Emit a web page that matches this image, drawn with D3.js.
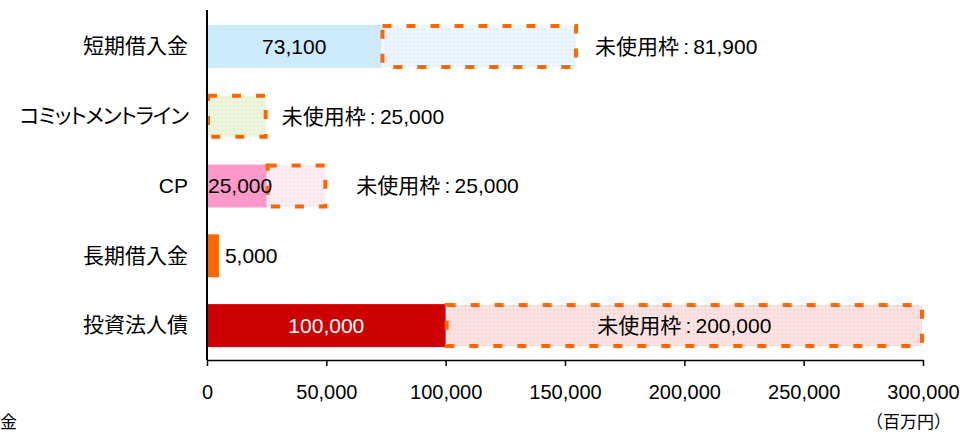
<!DOCTYPE html>
<html lang="ja">
  <head>
    <meta charset="utf-8" />
    <title>借入枠</title>
    <script src="https://d3js.org/d3.v7.min.js"></script>
    <style>
      body { margin: 0; background: #fff; }
      svg text { font-family: "Liberation Sans", Arial, "Noto Sans CJK JP", sans-serif; fill: #000; }
    </style>
  </head>
  <body>
    <div id="chart"></div>
    <script>
      // data
      const categories = ["短期借入金", "コミットメントライン", "CP", "長期借入金", "投資法人債"];
      const usedValues = [73100, 0, 25000, 5000, 100000];
      const unusedValues = [81900, 25000, 25000, 0, 200000];
      const xTicks = [0, 50000, 100000, 150000, 200000, 250000, 300000];

      const usedColors = ["#cdeafb", "#ffffff", "#ff99cc", "#ff6600", "#cc0000"];
      const unusedColors = ["#eef6fd", "#eef5dd", "#fdeef4", "#ffffff", "#fbe3e3"];
      const dotColors = ["#dde9f6", "#dbe8c4", "#f6d6e4", "#ffffff", "#f1c9c9"];

      const width = 976, height = 432;
      const margin = { top: 10, right: 53, bottom: 72, left: 207 };

      const svg = d3.select("#chart").append("svg")
        .attr("width", width).attr("height", height);

      const x = d3.scaleLinear().domain([0, 300000])
        .range([margin.left, width - margin.right]);
      const y = d3.scaleBand().domain(categories)
        .range([margin.top + 1, height - margin.bottom + 1]).paddingInner(0.385).paddingOuter(0.2);

      // dotted fill patterns
      const defs = svg.append("defs");
      categories.forEach((c, i) => {
        const p = defs.append("pattern").attr("id", "dots" + i)
          .attr("width", 4).attr("height", 4).attr("patternUnits", "userSpaceOnUse");
        p.append("rect").attr("width", 4).attr("height", 4).attr("fill", unusedColors[i]);
        p.append("rect").attr("x", 1).attr("y", 1).attr("width", 1.5).attr("height", 1.5).attr("fill", dotColors[i]);
      });

      // used bars
      svg.append("g").selectAll("rect")
        .data(categories)
        .join("rect")
        .attr("x", x(0))
        .attr("y", d => y(d))
        .attr("width", (d, i) => x(usedValues[i]) - x(0))
        .attr("height", y.bandwidth())
        .attr("fill", (d, i) => usedColors[i]);

      // unused frames
      svg.append("g").selectAll("rect")
        .data(categories.filter((d, i) => unusedValues[i] > 0))
        .join("rect")
        .attr("x", d => x(usedValues[categories.indexOf(d)]) + 1)
        .attr("y", d => y(d) + 1)
        .attr("width", d => {
          const i = categories.indexOf(d);
          return x(usedValues[i] + unusedValues[i]) - x(usedValues[i]) - 2;
        })
        .attr("height", y.bandwidth() - 2)
        .attr("fill", d => "url(#dots" + categories.indexOf(d) + ")")
        .attr("stroke", "#ff6600")
        .attr("stroke-width", 4)
        .attr("stroke-dasharray", "9,15");

      // axes
      const xAxis = d3.axisBottom(x).tickValues(xTicks)
        .tickFormat(d3.format(",")).tickSizeInner(6).tickSizeOuter(0);
      const gx = svg.append("g")
        .attr("transform", `translate(0,${height - margin.bottom})`)
        .call(xAxis);
      gx.select(".domain").attr("stroke", "#000").attr("stroke-width", 1.5);
      gx.selectAll(".tick line").attr("stroke", "#000").attr("stroke-width", 1.5);
      gx.selectAll(".tick text").attr("y", 25).attr("font-size", 20)
        .style("font-family", "'Liberation Sans', Arial, sans-serif");

      const yAxis = d3.axisLeft(y).tickSize(0).tickPadding(19);
      const gy = svg.append("g")
        .attr("transform", `translate(${margin.left},0)`)
        .call(yAxis);
      gy.select(".domain").attr("stroke", "#000").attr("stroke-width", 2)
        .attr("d", `M0,${margin.top}V${height - margin.bottom}`);
      gy.selectAll(".tick text").attr("font-size", 21)
        .style("font-family", "'Liberation Sans', 'Noto Sans CJK JP', sans-serif")
        .style("font-feature-settings", "'palt'")
        .style("letter-spacing", d => d.length > 6 ? "-1px" : null);

      // value labels
      const mid = d => y(d) + y.bandwidth() / 2;
      const labels = svg.append("g").attr("font-size", 21);
      const fmt = d3.format(",");
      const unusedText = v => "未使用枠\u2009:\u2009" + fmt(v);

      labels.append("text").attr("x", (x(0) + x(usedValues[0])) / 2).attr("y", mid(categories[0]))
        .attr("dy", "0.35em").attr("text-anchor", "middle").text(fmt(usedValues[0]));
      labels.append("text").attr("x", x(usedValues[0] + unusedValues[0]) + 18).attr("y", mid(categories[0]))
        .attr("dy", "0.35em").text(unusedText(unusedValues[0]));

      labels.append("text").attr("x", x(unusedValues[1]) + 15).attr("y", mid(categories[1]))
        .attr("dy", "0.35em").text(unusedText(unusedValues[1]));

      labels.append("text").attr("x", x(0) + 1).attr("y", mid(categories[2]))
        .attr("dy", "0.35em").text(fmt(usedValues[2]));
      labels.append("text").attr("x", x(usedValues[2] + unusedValues[2]) + 30).attr("y", mid(categories[2]))
        .attr("dy", "0.35em").text(unusedText(unusedValues[2]));

      labels.append("text").attr("x", x(usedValues[3]) + 6).attr("y", mid(categories[3]))
        .attr("dy", "0.35em").text(fmt(usedValues[3]));

      labels.append("text").attr("x", (x(0) + x(usedValues[4])) / 2).attr("y", mid(categories[4]))
        .attr("dy", "0.35em").attr("text-anchor", "middle").style("fill", "#fff").text(fmt(usedValues[4]));
      labels.append("text").attr("x", (x(usedValues[4]) + x(usedValues[4] + unusedValues[4])) / 2).attr("y", mid(categories[4]))
        .attr("dy", "0.35em").attr("text-anchor", "middle").text(unusedText(unusedValues[4]));

      // unit and stray caption
      svg.append("text").attr("x", 951).attr("y", 428).attr("text-anchor", "end")
        .attr("font-size", 17).text("（百万円）");
      svg.append("text").attr("x", 0).attr("y", 428).attr("font-size", 17).text("金");
    </script>
  </body>
</html>
